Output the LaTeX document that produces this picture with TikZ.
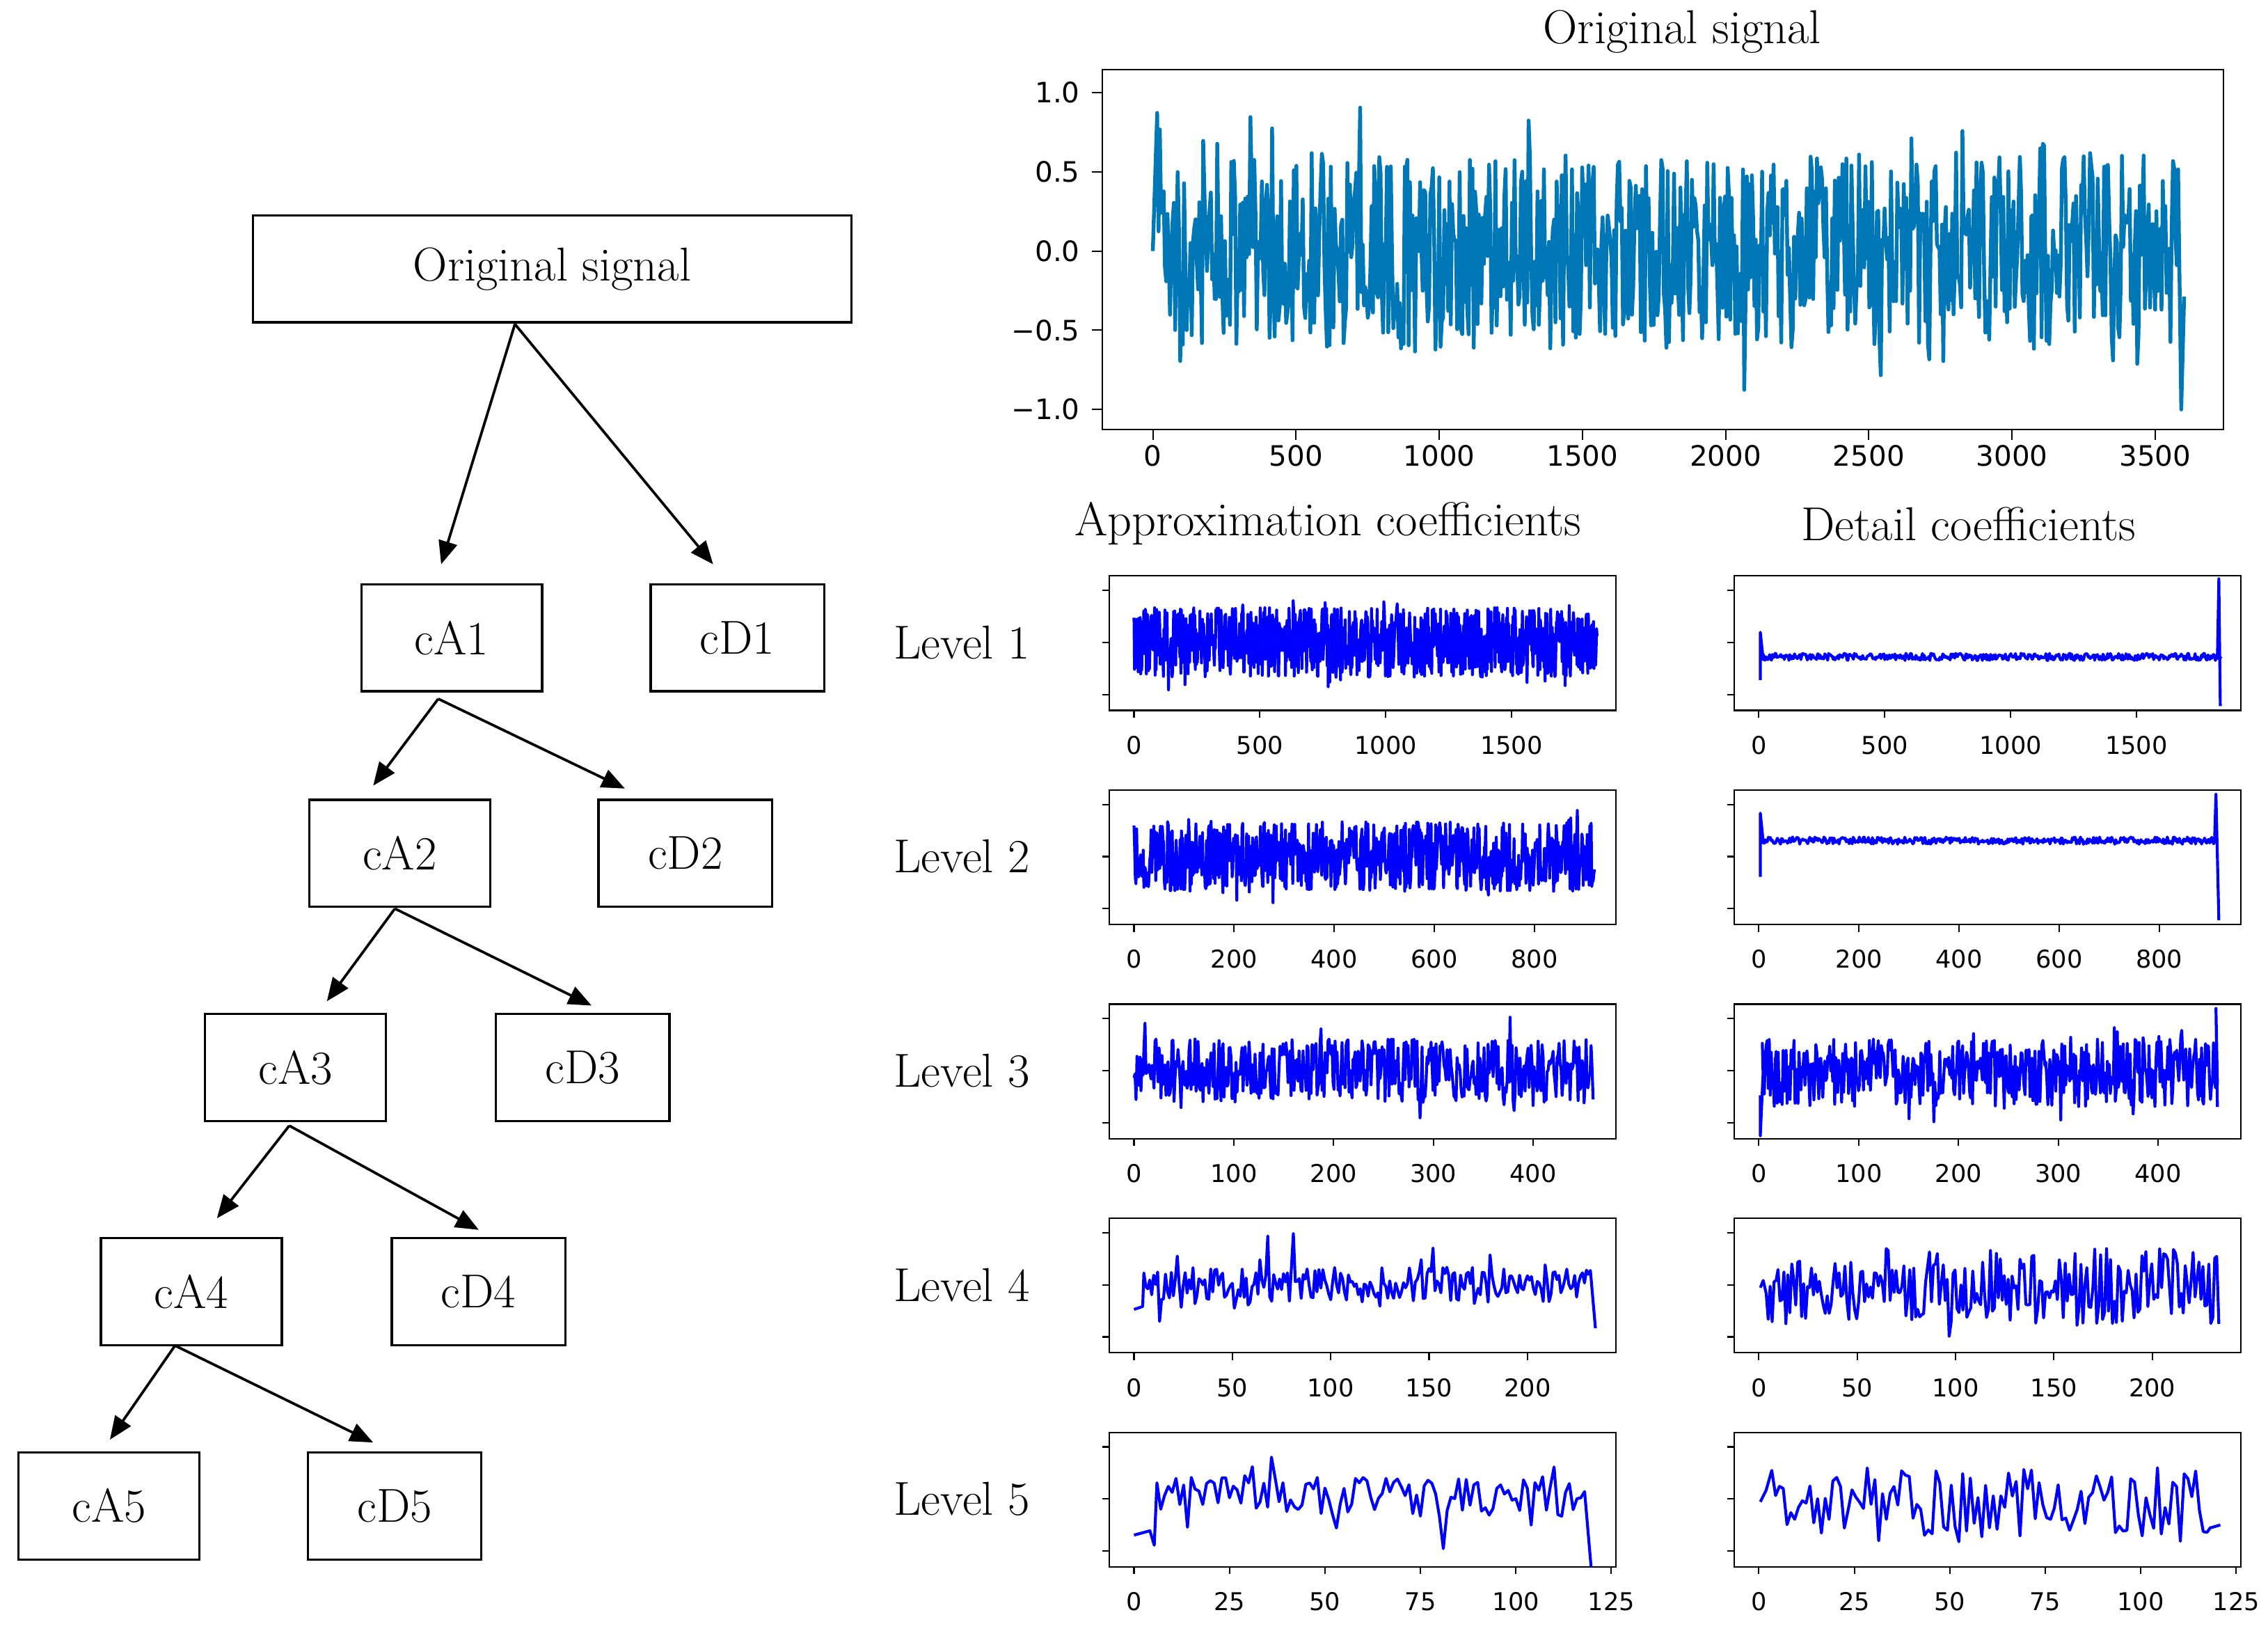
\documentclass[tikz,border=0pt]{standalone}
\usepackage{fontspec}
\newfontfamily\dv{DejaVu Sans}
\usetikzlibrary{arrows.meta}
\definecolor{sig}{RGB}{0,119,182}
\begin{document}
\begin{tikzpicture}[x=1bp,y=-1bp,
 box/.style={draw,line width=1.6bp,minimum height=74bp,font=\fontsize{33}{38}\selectfont,anchor=north west,inner sep=0pt},
 arr/.style={-{Triangle[length=16bp,width=13bp]},line width=1.8bp},
 tl/.style={font=\dv\fontsize{17}{20}\selectfont},
 tlb/.style={font=\dv\fontsize{19.5}{23}\selectfont},
 lab/.style={font=\fontsize{33}{38}\selectfont},
 ax/.style={line width=1bp},
 bsig/.style={blue,line width=2bp,line join=round}]
\pgfmathsetseed{7}
\useasboundingbox (0,0) rectangle (1568,1127);
% ---- tree
\node[box,minimum width=414bp] (orig) at (174,148) {Original signal};
\node[box,minimum width=125bp] (cA1) at (249,403) {cA1};
\node[box,minimum width=120bp] (cD1) at (449,403) {cD1};
\node[box,minimum width=125bp] (cA2) at (213,552) {cA2};
\node[box,minimum width=120bp] (cD2) at (413,552) {cD2};
\node[box,minimum width=125bp] (cA3) at (141,700) {cA3};
\node[box,minimum width=120bp] (cD3) at (342,700) {cD3};
\node[box,minimum width=125bp] (cA4) at (69,855) {cA4};
\node[box,minimum width=120bp] (cD4) at (270,855) {cD4};
\node[box,minimum width=125bp] (cA5) at (12,1003) {cA5};
\node[box,minimum width=120bp] (cD5) at (212,1003) {cD5};
\coordinate (s0) at (356,224); \coordinate (e0a) at (305,390); \coordinate (e0d) at (493,390);
\coordinate (s1) at (303,483); \coordinate (e1a) at (258,543); \coordinate (e1d) at (432,545);
\coordinate (s2) at (273,628); \coordinate (e2a) at (226,692); \coordinate (e2d) at (409,695);
\coordinate (s3) at (200,778); \coordinate (e3a) at (150,842); \coordinate (e3d) at (331,850);
\coordinate (s4) at (121,930); \coordinate (e4a) at (76,995); \coordinate (e4d) at (258,997);
\foreach \i in {0,...,4}{\draw[arr] (s\i) -- (e\i a); \draw[arr] (s\i) -- (e\i d);}
% ---- original signal plot
\node[lab] (t0) at (1163,22) {Original signal};
\draw[ax] (762,48) rectangle (1537,297);
\foreach \v/\t in {1/1.0,0.5/0.5,0/0.0,-0.5/{−0.5},-1/{−1.0}}{
 \draw[ax] (762,{173.5-109.5*\v}) -- ++(-7,0);
 \node[tlb,anchor=east] at (750,{173.5-109.5*\v}) {\t};}
\foreach \v in {0,500,...,3500}{
 \draw[ax] ({797+0.198*\v},297) -- ++(0,7);
 \node[tlb] at ({797+0.198*\v},315) {\v};}
\draw[sig,line width=2.6bp,line join=round] (797,173.5) -- (800,78) -- plot[domain=20:3580,samples=800] ({797+0.198*\x},{173.5-109.5*(0.62*rand+0.35*rand^5)}) -- (1508,283) -- (1510,205);
% ---- headers
\node[lab] at (918,362) {Approximation coefficients};
\node[lab] at (1361,362) {Detail coefficients};
% ---- subplot frames and ticks
\foreach \r/\T/\s/\st/\mx in {1/398/0.174/500/1500,2/546/0.346/200/800,3/694/0.69/100/400,4/842/1.36/50/200,5/990/2.64/25/125}{
 \node[lab] at (665,\T+46) {Level \r};
 \foreach \X in {767,1199}{
  \draw[ax] (\X,\T) rectangle ++(350,93);
  \foreach \yy in {10,46,82} \draw[ax] (\X,\T+\yy) -- ++(-5,0);
  \foreach \v in {0,\st,...,\mx}{
   \draw[ax] ({\X+17+\s*\v},\T+93) -- ++(0,5);
   \node[tl] at ({\X+17+\s*\v},\T+117) {\v};}}}
% ---- approximation signals
\draw[bsig] plot[domain=0:1840,samples=900] ({784+0.174*\x},{444+24*rand+14*rand*(rand>0.8)});
\draw[bsig] plot[domain=0:920,samples=700] ({784+0.346*\x},{592+24*rand+14*rand*(rand>0.8)});
\draw[bsig] plot[domain=0:460,samples=460] ({784+0.69*\x},{740+22*rand+16*rand*(rand>0.8)});
\draw[bsig] (784,905) -- (790,903) -- plot[domain=5:232,samples=228] ({784+1.36*\x},{888+12*rand+24*rand*(rand>0.7)}) -- (1103,918);
\draw[bsig] (784,1061) -- (795,1058) -- (798,1068) -- plot[domain=6:118,samples=113] ({784+2.64*\x},{1035+14*rand+22*rand*(rand>0.7)}) -- (1100,1083);
% ---- detail signals
\draw[bsig] (1217,470) -- (1217,437) -- (1219,456) -- plot[domain=4:1830,samples=500] ({1217+0.174*\x},{454+2.5*rand}) -- (1533,455) -- (1534,400) -- (1535,488);
\draw[bsig] (1217,606) -- (1217,562) -- (1219,582) -- plot[domain=4:910,samples=450] ({1217+0.346*\x},{581+2.5*rand}) -- (1531,582) -- (1532,549) -- (1534,636);
\draw[bsig] (1217,757) -- (1217,785) -- (1219,740) -- plot[domain=2:458,samples=460] ({1217+0.69*\x},{741+24*rand+12*rand*(rand>0.8)}) -- (1532,697) -- (1533,765);
\draw[bsig] (1217,890) -- (1219,885) -- plot[domain=3:232,samples=230] ({1217+1.36*\x},{889+26*rand+10*rand*(rand>0.7)}) -- (1534,915);
\draw[bsig] (1217,1038) -- (1221,1030) -- plot[domain=3:117,samples=115] ({1217+2.64*\x},{1040+26*rand}) -- (1528,1056) -- (1535,1054);
\end{tikzpicture}
\end{document}
